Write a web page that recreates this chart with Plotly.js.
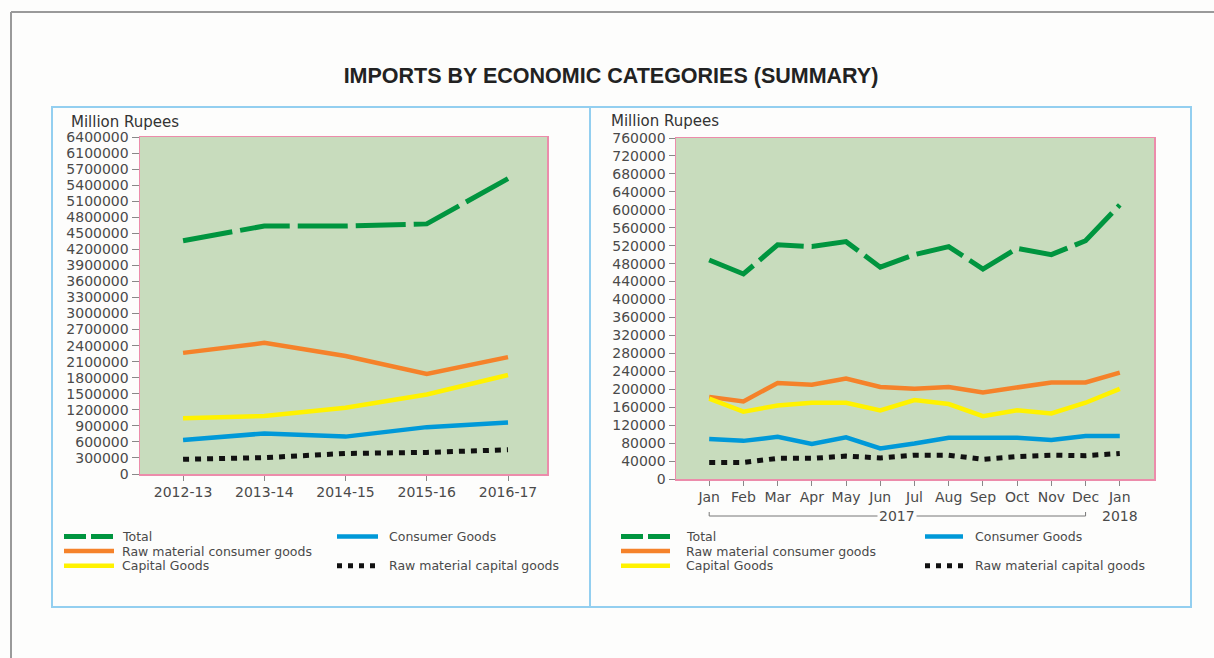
<!DOCTYPE html>
<html>
<head>
<meta charset="utf-8">
<script src="https://cdn.plot.ly/plotly-3.0.1.min.js"></script>
<style>html,body{margin:0;padding:0;background:#fdfdfc;overflow:hidden}</style>
</head>
<body>
<div id="chart" style="width:1214px;height:658px"></div>
<script>
// ---------- DATA ----------
const chartTitle = 'IMPORTS BY ECONOMIC CATEGORIES (SUMMARY)';
const unitLabel = 'Million Rupees';
const seriesNames = ['Total', 'Raw material consumer goods', 'Capital Goods', 'Consumer Goods', 'Raw material capital goods'];

const years = ['2012-13', '2013-14', '2014-15', '2015-16', '2016-17'];
const annualTotal       = [4430000, 4710000, 4710000, 4750000, 5610000];
const annualRawConsumer = [2300000, 2490000, 2240000, 1900000, 2220000];
const annualCapital     = [1060000, 1100000, 1260000, 1510000, 1880000];
const annualConsumer    = [645000, 770000, 710000, 890000, 980000];
const annualRawCapital  = [280000, 310000, 390000, 410000, 460000];

const months = ['Jan', 'Feb', 'Mar', 'Apr', 'May', 'Jun', 'Jul', 'Aug', 'Sep', 'Oct', 'Nov', 'Dec', 'Jan'];
const monthTotal       = [488000, 457000, 522000, 518000, 529000, 472000, 500000, 518000, 468000, 514000, 500000, 531000, 611000];
const monthRawConsumer = [183000, 173000, 214000, 210000, 224000, 205000, 201000, 205000, 193000, 205000, 215000, 215000, 237000];
const monthCapital     = [179000, 150000, 164000, 170000, 170000, 153000, 176000, 167000, 140000, 153000, 146000, 170000, 201000];
const monthConsumer    = [89000, 85000, 94000, 78000, 93000, 68000, 79000, 92000, 92000, 92000, 87000, 96000, 96000];
const monthRawCapital  = [37000, 37000, 46000, 46000, 51000, 47000, 53000, 53000, 44000, 50000, 53000, 52000, 57000];

const leftTickText = ['0', '300000', '600000', '900000', '1200000', '1500000', '1800000', '2100000', '2400000', '2700000', '3000000',
  '3300000', '3600000', '3900000', '4200000', '4500000', '4800000', '5100000', '5400000', '5700000', '6100000', '6400000'];
const rightTickText = ['0', '40000', '80000', '120000', '160000', '200000', '240000', '280000', '320000', '360000', '400000',
  '440000', '480000', '520000', '560000', '600000', '640000', '680000', '720000', '760000'];
const yearGroups = ['2017', '2018'];

// ---------- STYLES ----------
const W = 1214, H = 658;
const px = x => x / W;
const py = y => 1 - y / H;
const FONT = 'DejaVu Sans, Verdana, sans-serif';
const TXT = '#4a4a4a';
const PINK = '#ec8cab';

const seriesStyle = [
  {color: '#00953f', width: 5,   dash: '50px,8px', legDash: '22px,5px'},
  {color: '#f5822a', width: 4.5, dash: 'solid',    legDash: 'solid'},
  {color: '#fff200', width: 4.5, dash: 'solid',    legDash: 'solid'},
  {color: '#0099d8', width: 4.5, dash: 'solid',    legDash: 'solid'},
  {color: '#111111', width: 5,   dash: '6px,6px',  legDash: '5px,6px'}
];
const drawOrder = [0, 1, 2, 3, 4];

const annualSeries = [annualTotal, annualRawConsumer, annualCapital, annualConsumer, annualRawCapital];
const monthSeries = [monthTotal, monthRawConsumer, monthCapital, monthConsumer, monthRawCapital];
const monthIdx = months.map((_, i) => i);

const traces = [];
drawOrder.forEach(i => {
  traces.push({
    type: 'scatter', mode: 'lines', name: seriesNames[i], x: years, y: annualSeries[i],
    xaxis: 'x', yaxis: 'y', showlegend: false, hoverinfo: 'x+y+name',
    line: {color: seriesStyle[i].color, width: seriesStyle[i].width, dash: seriesStyle[i].dash}
  });
});
drawOrder.forEach(i => {
  traces.push({
    type: 'scatter', mode: 'lines', name: seriesNames[i], x: monthIdx, y: monthSeries[i],
    xaxis: 'x2', yaxis: 'y2', showlegend: false, hoverinfo: 'y+name',
    line: {color: seriesStyle[i].color, width: seriesStyle[i].width, dash: seriesStyle[i].dash}
  });
});

const axisCommon = {
  showline: true, linecolor: PINK, linewidth: 1.5, mirror: true,
  showgrid: false, zeroline: false, ticks: 'outside', tickcolor: '#888', tickwidth: 1,
  tickfont: {family: FONT, size: 14, color: TXT}, fixedrange: true
};

const shapes = [];
const annotations = [];

// outer frame
shapes.push({type: 'line', xref: 'paper', yref: 'paper', x0: px(11), x1: px(11), y0: py(12), y1: py(658), line: {color: '#9a9a9a', width: 2}});
shapes.push({type: 'line', xref: 'paper', yref: 'paper', x0: px(11), x1: px(1214), y0: py(12), y1: py(12), line: {color: '#9a9a9a', width: 2}});
// panels
[[52, 590], [590, 1191]].forEach(([a, b]) => {
  shapes.push({type: 'rect', xref: 'paper', yref: 'paper', x0: px(a), x1: px(b), y0: py(607), y1: py(107), line: {color: '#93cff0', width: 2}});
});

// unit labels
[[69, 122], [609, 121]].forEach(([x, y]) => {
  annotations.push({text: unitLabel, xref: 'paper', yref: 'paper', x: px(x), y: py(y), xanchor: 'left', yanchor: 'middle', showarrow: false,
    font: {family: FONT, size: 15, color: '#333'}});
});

// year bracket under monthly axis
const bY = 516;
shapes.push({type: 'line', xref: 'x2', yref: 'paper', x0: 0, x1: 11, y0: py(bY), y1: py(bY), line: {color: '#777', width: 1}});
shapes.push({type: 'line', xref: 'x2', yref: 'paper', x0: 0, x1: 0, y0: py(bY), y1: py(bY - 4), line: {color: '#777', width: 1}});
shapes.push({type: 'line', xref: 'x2', yref: 'paper', x0: 11, x1: 11, y0: py(bY), y1: py(bY - 4), line: {color: '#777', width: 1}});
annotations.push({text: yearGroups[0], xref: 'x2', yref: 'paper', x: 5.5, y: py(bY), xanchor: 'center', yanchor: 'middle', showarrow: false,
  bgcolor: '#fdfdfc', borderpad: 1, font: {family: FONT, size: 14, color: TXT}});
annotations.push({text: yearGroups[1], xref: 'x2', yref: 'paper', x: 12, y: py(bY), xanchor: 'center', yanchor: 'middle', showarrow: false,
  font: {family: FONT, size: 14, color: TXT}});

// legends (custom, two columns per panel)
const legendRows = [536.5, 551.1, 565.7];
const legendLayout = [
  {col1: [64, 114, 121], col2: [337, 378, 388]},
  {col1: [621, 670, 685], col2: [925, 963, 974]}
];
const legendSlots = [[1, 0], [1, 1], [1, 2], [2, 0], [2, 2]]; // [column, row] per series
legendLayout.forEach(L => {
  seriesNames.forEach((name, i) => {
    const [col, row] = legendSlots[i];
    const c = col === 1 ? L.col1 : L.col2;
    const y = legendRows[row];
    shapes.push({type: 'line', xref: 'paper', yref: 'paper', x0: px(c[0]), x1: px(c[1]), y0: py(y), y1: py(y),
      line: {color: seriesStyle[i].color, width: seriesStyle[i].width, dash: seriesStyle[i].legDash}});
    annotations.push({text: name, xref: 'paper', yref: 'paper', x: px(c[2]), y: py(y), xanchor: 'left', yanchor: 'middle', showarrow: false,
      borderpad: 0, font: {family: FONT, size: 12.5, color: TXT}});
  });
});

const layout = {
  width: W, height: H,
  margin: {l: 0, r: 0, t: 0, b: 0},
  paper_bgcolor: '#fdfdfc',
  plot_bgcolor: '#c8dcbd',
  showlegend: false,
  title: {text: chartTitle, x: px(611), xanchor: 'center', y: py(75), yanchor: 'middle',
    font: {family: 'Liberation Sans, Arial, sans-serif', size: 21.5, weight: 'bold', color: '#222'}},
  xaxis: Object.assign({}, axisCommon, {domain: [px(140), px(547)], anchor: 'y', type: 'category', range: [-0.53, 4.48], ticklen: 5}),
  yaxis: Object.assign({}, axisCommon, {domain: [py(474), py(137)], anchor: 'x', range: [0, 6400000], ticklen: 7,
    tickvals: leftTickText.map((_, i) => i * 6400000 / (leftTickText.length - 1)), ticktext: leftTickText}),
  xaxis2: Object.assign({}, axisCommon, {domain: [px(676), px(1154)], anchor: 'y2', range: [-0.97, 13.0], ticklen: 5,
    tickvals: monthIdx, ticktext: months}),
  yaxis2: Object.assign({}, axisCommon, {domain: [py(479), py(138)], anchor: 'x2', range: [0, 760000], ticklen: 6,
    tickvals: rightTickText.map(Number), ticktext: rightTickText}),
  shapes: shapes,
  annotations: annotations
};

Plotly.newPlot('chart', traces, layout, {displayModeBar: false, staticPlot: true});
</script>
</body>
</html>
